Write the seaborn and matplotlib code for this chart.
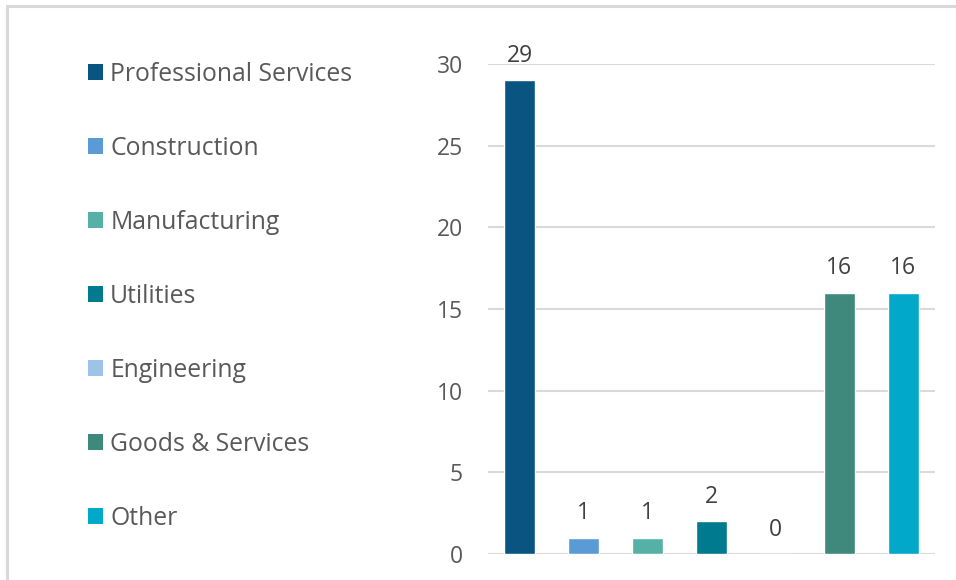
import matplotlib
matplotlib.use("Agg")
import matplotlib.pyplot as plt
from matplotlib.patches import Patch, Rectangle
import seaborn as sns
import pandas as pd

# Industry breakdown
categories = ["Professional Services", "Construction", "Manufacturing", "Utilities",
              "Engineering", "Goods & Services", "Other"]
counts = [29, 1, 1, 2, 0, 16, 16]
colors = ["#0A5482", "#5B9BD5", "#55B1A5", "#007A8E", "#9DC3E6", "#3E887C", "#02A8CA"]
y_ticks = [0, 5, 10, 15, 20, 25, 30]

df = pd.DataFrame({"industry": categories, "count": counts})

sns.set_theme(style="white")
plt.rcParams["font.family"] = ["Open Sans", "DejaVu Sans"]

W, H = 956, 580
fig = plt.figure(figsize=(W / 100, H / 100), dpi=100)

# Light outer frame (left and top edges visible)
fig.patches.append(Rectangle((6.5 / W, -0.1), 1.2, 1.1 - 6 / H, transform=fig.transFigure,
                             fill=False, edgecolor="#D9D9D9", linewidth=2.2, zorder=0))

left, right = 488 / W, 935 / W
bottom, top = 1 - 554 / H, 1 - 64 / H
ax = fig.add_axes([left, bottom, right - left, top - bottom])

palette = dict(zip(categories, colors))
sns.barplot(data=df, x="industry", y="count", hue="industry", palette=palette,
            order=categories, hue_order=categories, dodge=False, width=0.485,
            saturation=1, legend=False, ax=ax, zorder=3)

ax.set_ylim(0, 30)
ax.set_xlim(-0.5, len(categories) - 0.5)
ax.set_yticks(y_ticks)
ax.set_yticklabels([str(t) for t in y_ticks], fontsize=16.5, color="#595959")
ax.tick_params(axis="y", length=0, pad=18)
ax.set_xticks([])
ax.set_xlabel("")
ax.set_ylabel("")
for s in ax.spines.values():
    s.set_visible(False)
ax.grid(axis="y", color="#D9D9D9", linewidth=1.5, zorder=0)
ax.set_axisbelow(True)

for cont in ax.containers:
    ax.bar_label(cont, labels=[f"{v:.0f}" for v in cont.datavalues], padding=9,
                 fontsize=16.5, color="#404040", clip_on=False)

handles = [Patch(facecolor=c, edgecolor="none") for c in colors]
fig.legend(handles, categories, loc="upper left", bbox_to_anchor=(78 / W, 1 - 52 / H),
           frameon=False, fontsize=17.8, labelcolor="#595959", handlelength=0.62,
           handleheight=0.62, handletextpad=0.28, labelspacing=1.98, borderaxespad=0)

fig.savefig("out.png", dpi=100)
